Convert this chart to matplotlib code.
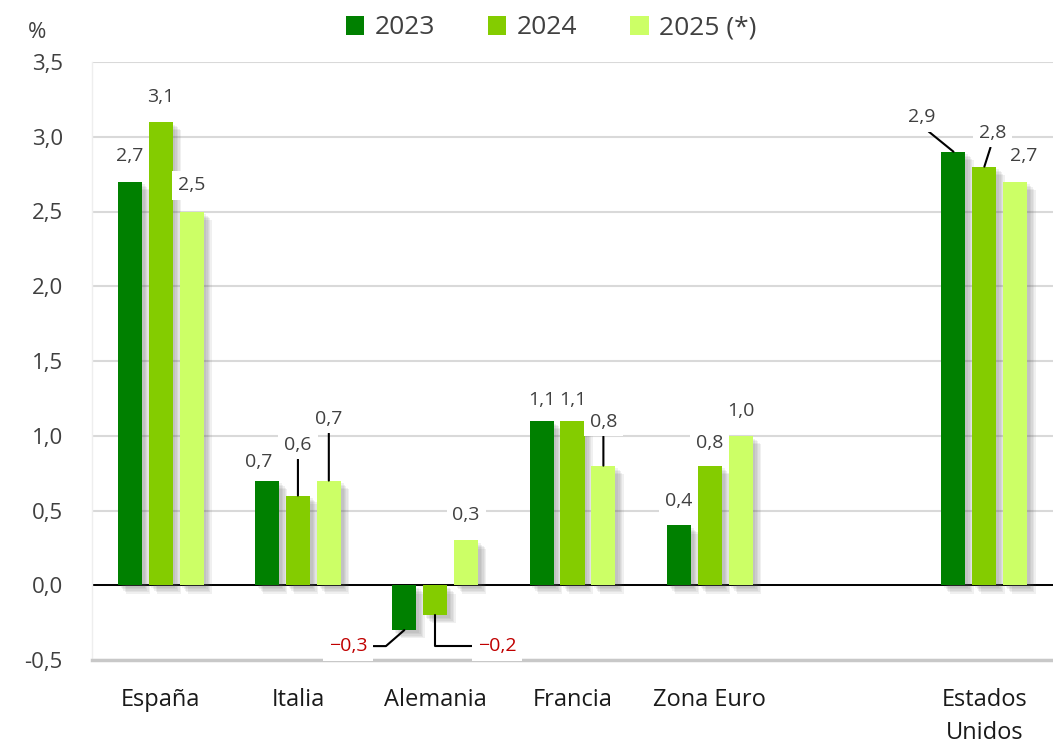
import numpy as np
import matplotlib
matplotlib.use('Agg')
import matplotlib.pyplot as plt
from matplotlib import patheffects as pe
from matplotlib.patches import Patch

# ---------------- data ----------------
categories = ['España', 'Italia', 'Alemania', 'Francia', 'Zona Euro', '', 'Estados\nUnidos']
series_names = ['2023', '2024', '2025 (*)']
v2023 = [2.7, 0.7, -0.3, 1.1, 0.4, np.nan, 2.9]
v2024 = [3.1, 0.6, -0.2, 1.1, 0.8, np.nan, 2.8]
v2025 = [2.5, 0.7, 0.3, 0.8, 1.0, np.nan, 2.7]
yticks = [-0.5, 0.0, 0.5, 1.0, 1.5, 2.0, 2.5, 3.0, 3.5]

# ---------------- style ----------------
colors = ['#008000', '#84CC00', '#CCFF66']
# label offsets (pixels: dx right, dy up) from bar end
label_offsets = [
    [(0, 26), (-8, 19), (-56, -16), (0, 21), (0, 24), None, (-32, 35)],
    [(0, 25), (0, 51), (62, -31), (0, 21), (0, 23), None, (8, 34)],
    [(0, 26), (0, 62), (0, 25), (0, 44), (0, 25), None, (8, 26)],
]
# leader lines: (series, category) -> (connectionstyle, relpos)
leaders = {
    (0, 2): ('angle,angleA=0,angleB=41,rad=0', (1, 0.5)),
    (1, 2): ('angle,angleA=0,angleB=90,rad=0', (0, 0.5)),
    (1, 1): ('arc3', (0.5, 0)),
    (2, 1): ('arc3', (0.5, 0)),
    (2, 3): ('arc3', (0.5, 0)),
    (0, 6): ('arc3', (0.5, 0)),
    (1, 6): ('arc3', (0.5, 0)),
}

plt.rcParams['font.family'] = ['Open Sans', 'DejaVu Sans']

W, H = 1053, 747
fig = plt.figure(figsize=(W / 100, H / 100), dpi=100)
ax = fig.add_axes([92 / W, 1 - 660 / H, (1053 - 92) / W, (660 - 62) / H])

x = np.arange(len(categories))
offsets = [-0.225, 0.0, 0.225]
width = 0.175
series = [v2023, v2024, v2025]

# soft (pseudo-blurred) shadow
shadow = [pe.withSimplePatchShadow(offset=(o, -o), shadow_rgbFace='#606060', alpha=0.09)
          for o in (6, 5, 4, 3)] + \
         [pe.withSimplePatchShadow(offset=(2, -2), shadow_rgbFace='#606060', alpha=0.09)]

for s, (vals, col, name) in enumerate(zip(series, colors, series_names)):
    ax.bar(x + offsets[s], vals, width=width, color=col, zorder=3, path_effects=shadow)
    for c, v in enumerate(vals):
        if np.isnan(v):
            continue
        dx, dy = label_offsets[s][c]
        txt = f'{v:.1f}'.replace('.', ',').replace('-', '\u2212')
        color = '#C00000' if v < 0 else '#404040'
        kw = {}
        if (s, c) in leaders:
            cs, rp = leaders[(s, c)]
            kw['arrowprops'] = dict(arrowstyle='-', color='black', lw=1.5,
                                    connectionstyle=cs, relpos=rp,
                                    shrinkA=0, shrinkB=0)
        ax.annotate(txt, xy=(x[c] + offsets[s], v), xytext=(dx * 0.72, dy * 0.72),
                    textcoords='offset points', ha='center', va='center',
                    fontsize=14, color=color, zorder=6,
                    bbox=dict(boxstyle='square,pad=0.3', fc='white', ec='none'),
                    **kw)

ax.axhline(0, color='black', lw=1.4, zorder=2.5)

ax.set_xlim(-0.5, len(categories) - 0.5)
ax.set_ylim(-0.5, 3.5)
ax.set_yticks(yticks)
ax.set_yticklabels([f'{t:.1f}'.replace('.', ',') for t in yticks])
ax.set_xticks(x)
ax.set_xticklabels(categories)
for lbl in ax.get_xticklabels():
    lbl.set_linespacing(1.5)

ax.yaxis.grid(True, color='#d9d9d9', lw=1.5)
ax.set_axisbelow(True)
ax.tick_params(axis='y', length=0, pad=21, labelsize=16, labelcolor='#404040')
ax.tick_params(axis='x', length=0, pad=20, labelsize=17, labelcolor='#1a1a1a')

for sp in ['top', 'right']:
    ax.spines[sp].set_visible(False)
ax.spines['left'].set_color('#eeeeee')
ax.spines['left'].set_linewidth(1)
ax.spines['bottom'].set_color('#c8c8c8')
ax.spines['bottom'].set_linewidth(2.5)

handles = [Patch(facecolor=c, edgecolor='none', label=n) for c, n in zip(colors, series_names)]
fig.legend(handles=handles, loc='center', bbox_to_anchor=(551 / W, 1 - 28 / H), ncol=3,
           frameon=False, fontsize=19, handlelength=0.7, handleheight=0.7,
           handletextpad=0.4, columnspacing=2.0, labelcolor='#404040')

fig.text(37 / W, 1 - 33 / H, '%', ha='center', va='center', fontsize=16, color='#404040')

fig.savefig('out.png', dpi=100)
